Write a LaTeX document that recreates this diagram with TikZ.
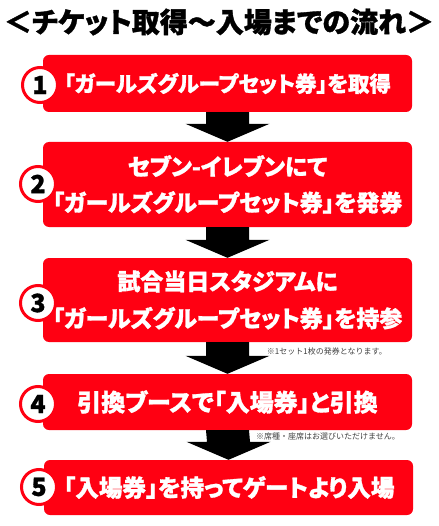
\documentclass[tikz,border=0pt]{standalone}
\usepackage{fontspec}
\setmainfont{Noto Sans CJK JP}[RawFeature=+palt, BoldFeatures={FakeBold=1.2}]
\newfontfamily\notefont{Noto Sans CJK JP}
\usetikzlibrary{calc}
\definecolor{flowred}{RGB}{255,0,18}
\tikzstyle{stepbox} = [fill=flowred, rounded corners=6pt, minimum width=369pt, inner sep=0pt, text=white, align=center, font=\bfseries\fontsize{23}{36}\selectfont]
\tikzstyle{num} = [circle, draw=flowred, line width=3pt, fill=white, minimum size=35pt, inner sep=0pt, font=\bfseries\fontsize{25}{25}\selectfont]
\tikzstyle{note} = [anchor=east, inner sep=0pt, text=black!75, font=\notefont\fontsize{8}{8}\selectfont]
% block arrow from the bottom of one box to the top of the next
\newcommand{\flowarrow}[2]{%
  \fill ($(#1.south)+(-21.5,0)$) -- ($(#1.south)+(21.5,0)$) -- ($(#2.north)+(21.5,-18)$)
    -- ($(#2.north)+(42,-18)$) -- (#2.north) -- ($(#2.north)+(-42,-18)$)
    -- ($(#2.north)+(-21.5,-18)$) -- cycle;}

\begin{document}
\begin{tikzpicture}[x=1pt,y=-1pt]
	\useasboundingbox (0,0) rectangle (438,526);
	\node (title) at (219,22) [font=\bfseries\fontsize{28}{28}\selectfont] {＜チケット取得～入場までの流れ＞};
	\node (s1) at (227.5,83.5) [stepbox, minimum height=57pt, font=\bfseries\fontsize{21.5}{22}\selectfont] {「ガールズグループセット券」を取得};
	\node (s2) at (227.5,184.5) [stepbox, minimum height=85pt] {セブン-イレブンにて\\「ガールズグループセット券」を発券};
	\node (s3) at (227.5,300) [stepbox, minimum height=84pt, font=\bfseries\fontsize{23}{37}\selectfont] {試合当日スタジアムに\\「ガールズグループセット券」を持参};
	\node (s4) at (227.5,402) [stepbox, minimum height=56pt, font=\bfseries\fontsize{24}{24}\selectfont] {引換ブースで「入場券」と引換};
	\node (s5) at (228.5,487.5) [stepbox, minimum height=55pt] {};
	\node (t5) at (229,487.5) [text=white, inner sep=0pt, font=\bfseries\fontsize{23.6}{24}\selectfont] {「入場券」を持ってゲートより入場};
	\flowarrow{s1}{s2}
	\flowarrow{s2}{s3}
	\flowarrow{s3}{s4}
	\flowarrow{s4}{s5}
	\node (n1) at (40,85) [num] {1};
	\node (n2) at (38,184) [num] {2};
	\node (n3) at (38,303) [num] {3};
	\node (n4) at (38,404) [num] {4};
	\node (n5) at (39,487) [num] {5};
	\node (note3) at (387,351) [note] {※1セット1枚の発券となります。};
	\node (note4) at (400,436) [note] {※席種・座席はお選びいただけません。};
\end{tikzpicture}
\end{document}
